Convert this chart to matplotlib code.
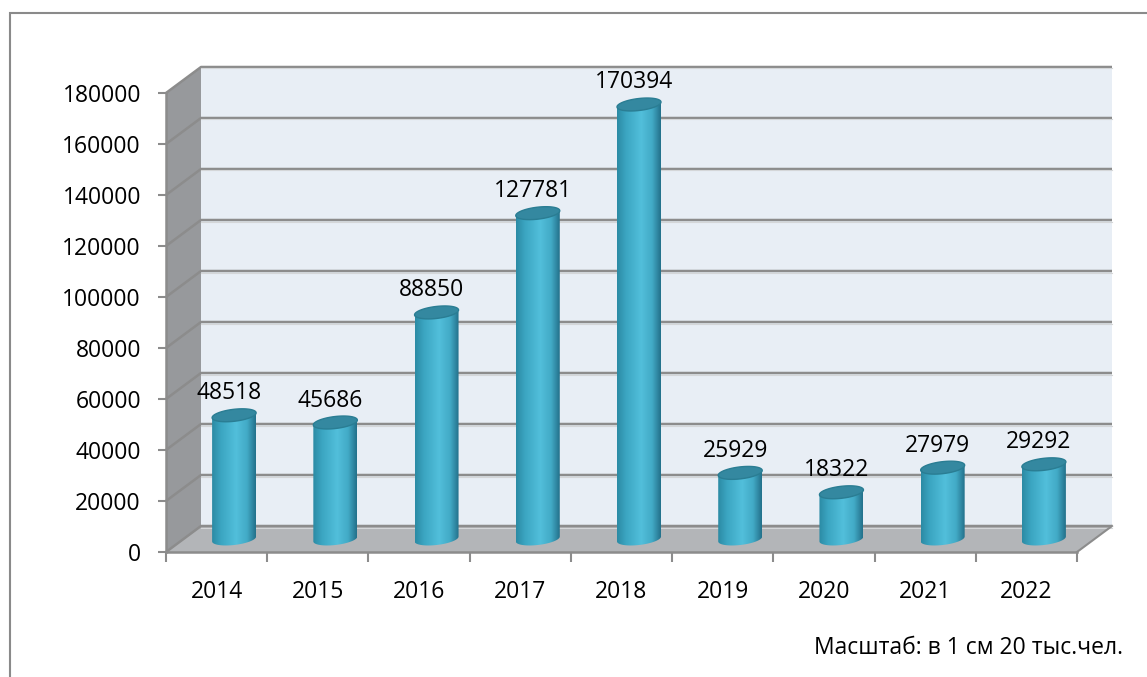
import numpy as np
import matplotlib
matplotlib.use("Agg")
import matplotlib.pyplot as plt
from matplotlib.colors import LinearSegmentedColormap
from matplotlib.patches import Polygon, Rectangle

years = ["2014", "2015", "2016", "2017", "2018", "2019", "2020", "2021", "2022"]
values = [48518, 45686, 88850, 127781, 170394, 25929, 18322, 27979, 29292]
yticks = [0, 20000, 40000, 60000, 80000, 100000, 120000, 140000, 160000, 180000]
caption = "Масштаб: в 1 см 20 тыс.чел."

plt.rcParams['font.family'] = ['Open Sans', 'DejaVu Sans']

W, H = 1147, 677
fig = plt.figure(figsize=(W / 100, H / 100), dpi=100)
fig.patch.set_facecolor("white")

# front plane of the 3d box (pixels)
x0, x1, yb, yt = 166, 1077, 552, 93
ax = fig.add_axes([x0 / W, (H - yb) / H, (x1 - x0) / W, (yb - yt) / H])
n = len(years)
ymax = yticks[-1]
ax.set_xlim(0, n)
ax.set_ylim(0, ymax)
ax.patch.set_visible(False)

pxx = (x1 - x0) / n          # px per category
pxy = (yb - yt) / ymax       # px per value unit
dx = 35 / pxx                # depth offset, data units
dy = 26 / pxy

grid_c = "#8c8c8c"
# side wall, back wall, floor
ax.add_patch(Polygon([(0, 0), (0, ymax), (dx, ymax + dy), (dx, dy)], closed=True,
                     facecolor="#97999c", edgecolor="none", zorder=0, clip_on=False))
ax.add_patch(Polygon([(dx, dy), (dx, ymax + dy), (n + dx, ymax + dy), (n + dx, dy)], closed=True,
                     facecolor="#e8eef5", edgecolor="none", zorder=0, clip_on=False))
ax.add_patch(Polygon([(0, 0), (n, 0), (n + dx, dy), (dx, dy)], closed=True,
                     facecolor="#b3b5b8", edgecolor="none", zorder=0, clip_on=False))
for v in yticks:
    ax.plot([0, dx, n + dx], [v, v + dy, v + dy], color=grid_c, lw=1.8, zorder=1,
            clip_on=False, solid_capstyle="butt")
    ax.plot([dx, n + dx], [v + dy - 1.5 / pxy, v + dy - 1.5 / pxy], color="#d4d6d8", lw=0.8,
            zorder=1, clip_on=False)
ax.plot([n, n + dx], [0, dy], color=grid_c, lw=1.5, zorder=1, clip_on=False)

# cylinders
cmap = LinearSegmentedColormap.from_list("cyl", [(0.0, "#2b8aa4"), (0.2, "#3ba5c1"),
                                                 (0.55, "#52bfdb"), (0.8, "#42aac6"),
                                                 (1.0, "#23708a")])
a = 22 / pxx
b = 6 / pxy
tilt = 0.11 * 22 / pxy  # right side of ellipse slightly higher
t = np.linspace(0, 2 * np.pi, 100)
grad = np.linspace(0, 1, 256).reshape(1, -1)
for i, v in enumerate(values):
    cx = i + 0.5 + dx / 2
    base = dy / 2
    top = v + dy / 2
    ex = cx + a * np.cos(t)
    ey_off = b * np.sin(t) + tilt * np.cos(t)
    tb = np.linspace(np.pi, 2 * np.pi, 60)
    bx = cx + a * np.cos(tb)
    by = base + b * np.sin(tb) + tilt * np.cos(tb)
    body = list(zip(bx, by)) + [(cx + a, top + tilt), (cx - a, top - tilt)]
    poly = Polygon(body, closed=True, facecolor="none", edgecolor="none", transform=ax.transData)
    ax.add_patch(poly)
    im = ax.imshow(grad, cmap=cmap, aspect="auto", extent=[cx - a, cx + a, base - b - tilt, top],
                   zorder=3, interpolation="bilinear")
    im.set_clip_path(poly)
    ax.add_patch(Polygon(list(zip(ex, top + ey_off)), closed=True, facecolor="#3488a0",
                         edgecolor="#2a7d93", lw=1.0, zorder=4))
    ax.annotate(str(v), (cx, top), xytext=(-5 * 0.72, 22 * 0.72), textcoords="offset points",
                ha="center", va="center", fontsize=16.5, color="black", zorder=5)

ax.set_xlim(0, n)
ax.set_ylim(0, ymax)

# axes
for s in ["top", "right"]:
    ax.spines[s].set_visible(False)
for s in ["left", "bottom"]:
    ax.spines[s].set_color(grid_c)
    ax.spines[s].set_linewidth(1.8)
    ax.spines[s].set_zorder(2)
ax.set_yticks(yticks)
ax.set_yticklabels([str(v) for v in yticks], fontsize=16.5)
ax.tick_params(axis="y", length=6, width=1.5, color=grid_c, pad=12)
ax.set_xticks(np.arange(n + 1))
ax.set_xticklabels([])
ax.tick_params(axis="x", which="major", length=7, width=1.5, color=grid_c)
ax.set_xticks(np.arange(n) + 0.5, minor=True)
ax.set_xticklabels(years, minor=True, fontsize=16.5)
ax.tick_params(axis="x", which="minor", length=0, pad=20)

fig.text(1123 / W, 1 - 648 / H, caption, ha="right", va="center", fontsize=16.5)

fig.patches.append(Rectangle((10 / W, -0.05), 1.2, (H - 13) / H + 0.05, transform=fig.transFigure,
                             fill=False, edgecolor="#8a8a8a", lw=1.5))

fig.savefig("out.png", dpi=100)
